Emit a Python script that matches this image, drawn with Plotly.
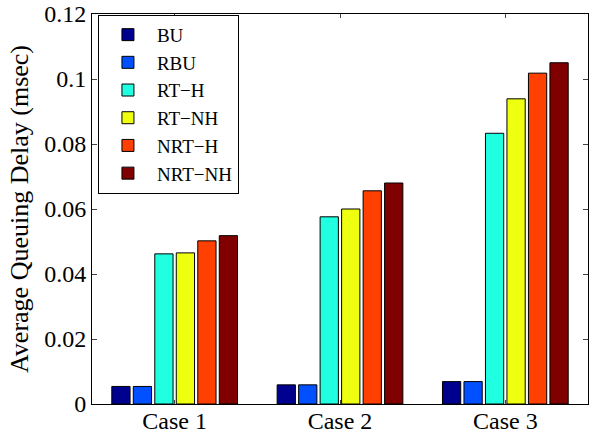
import plotly.graph_objects as go

categories = ["Case 1", "Case 2", "Case 3"]
series_names = ["BU", "RBU", "RT\u2212H", "RT\u2212NH", "NRT\u2212H", "NRT\u2212NH"]
bu = [0.0054, 0.0059, 0.0069]
rbu = [0.0054, 0.0059, 0.0069]
rt_h = [0.0462, 0.0576, 0.0833]
rt_nh = [0.0465, 0.0600, 0.0939]
nrt_h = [0.0502, 0.0656, 0.1018]
nrt_nh = [0.0518, 0.0680, 0.1050]
colors = ["#00008F", "#0050FF", "#20FFDF", "#EFFF10", "#FF4000", "#800000"]
yticks = [0, 0.02, 0.04, 0.06, 0.08, 0.1, 0.12]
ytick_labels = ["0", "0.02", "0.04", "0.06", "0.08", "0.1", "0.12"]

values = [bu, rbu, rt_h, rt_nh, nrt_h, nrt_nh]
xs = [1, 2, 3]

fig = go.Figure()
for name, vals, col in zip(series_names, values, colors):
    fig.add_trace(go.Bar(x=xs, y=vals, name=name, marker=dict(color=col, line=dict(color="black", width=1))))

fam = "Liberation Serif, Times New Roman, serif"
font = dict(family=fam, size=24, color="black")
fig.update_layout(
    width=595, height=437,
    margin=dict(l=92, r=7, t=14, b=33),
    barmode="group", bargap=0.22, bargroupgap=0.15,
    plot_bgcolor="white", paper_bgcolor="white",
    font=font,
    showlegend=True,
    legend=dict(x=0.012, y=0.998, xanchor="left", yanchor="top",
                bgcolor="white", bordercolor="black", borderwidth=1,
                font=dict(family=fam, size=19, color="black"),
                itemwidth=48, tracegroupgap=0),
    xaxis=dict(range=[0.5, 3.5], tickvals=xs, ticktext=categories,
               ticks="inside", ticklen=4, showline=True, linecolor="black",
               linewidth=1, mirror="ticks", showgrid=False, zeroline=False,
               tickfont=font, automargin=False, ticklabelstandoff=-5),
    yaxis=dict(range=[0, 0.12], tickvals=yticks, ticktext=ytick_labels,
               ticks="inside", ticklen=5, showline=True, linecolor="black",
               linewidth=1, mirror="ticks", showgrid=False, zeroline=False,
               tickfont=font, automargin=False,
               title=dict(text="Average Queuing Delay (msec)", font=dict(family=fam, size=26, color="black"), standoff=8)),
)
fig.write_html("out.html")
